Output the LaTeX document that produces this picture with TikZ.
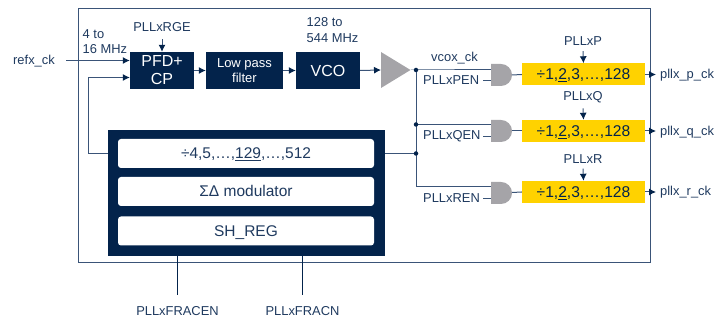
\documentclass[tikz,border=0pt]{standalone}
\usepackage{fontspec}
\setmainfont{Liberation Sans}
\usetikzlibrary{arrows.meta}
\definecolor{navy}{HTML}{03234B}
\definecolor{txt}{HTML}{1F3A5F}
\definecolor{wire}{HTML}{3A5478}
\definecolor{gold}{HTML}{FFD200}
\definecolor{gatec}{HTML}{A5A4A8}
\newcommand{\thickul}[1]{\setbox0\hbox{#1}\rlap{\rule[-2.4pt]{\wd0}{1.2pt}}\box0}
\tikzset{
  x=1pt,y=-1pt,
  wireline/.style={draw=wire,line width=1pt},
  arrowline/.style={wireline,-{Latex[length=7pt,width=7pt,color=navy]}},
  darkbox/.style={fill=navy,text=white,inner sep=0pt,align=center,font=\fontsize{16}{19}\selectfont},
  whitebox/.style={fill=white,rounded corners=3pt,text=txt,inner sep=0pt,text height=11pt,text depth=0pt,font=\fontsize{15.5}{18}\selectfont},
  yellowbox/.style={fill=gold,text=navy,inner sep=0pt,minimum width=123pt,minimum height=22pt,text height=11pt,text depth=0pt,font=\fontsize{15.6}{18}\selectfont},
  lbl/.style={text=txt,inner sep=0pt,font=\fontsize{12.9}{15.5}\selectfont,align=left},
  dotj/.style={circle,fill=navy,inner sep=0pt,minimum size=4.5pt}
}
\begin{document}
\begin{tikzpicture}
\useasboundingbox (0,0) rectangle (718,320);
\draw[wire,line width=1pt] (78.5,9) rectangle (650,263);
% boxes
\node[darkbox,minimum width=64pt,minimum height=37pt] (pfd) at (162,70.5) {PFD+\\[-1pt]CP};
\node[darkbox,minimum width=77pt,minimum height=37pt,font=\fontsize{13}{15.5}\selectfont] (lpf) at (244.5,70.5) {Low pass\\filter};
\node[darkbox,minimum width=64pt,minimum height=37pt] (vco) at (328,70.5) {VCO};
\fill[gatec] (381,52) -- (410.5,70) -- (381,88) -- cycle;
\coordinate (ampin) at (381,70);
\coordinate (ampout) at (410.5,70);
\node[fill=navy,minimum width=277pt,minimum height=126pt,inner sep=0pt] (big) at (246.5,193) {};
\node[whitebox,minimum width=256pt,minimum height=29pt] (div) at (246,153.5) {÷4,5,…,\thickul{129},…,512};
\node[whitebox,minimum width=256pt,minimum height=29pt] (mod) at (246,191.5) {ΣΔ modulator};
\node[whitebox,minimum width=256pt,minimum height=29pt] (sh) at (246,231) {SH\_REG};
% yellow
\node[yellowbox] (yp) at (583.5,74.5) {÷1,\thickul{2},3,…,128};
\node[yellowbox] (yq) at (583.5,131) {÷1,\thickul{2},3,…,128};
\node[yellowbox] (yr) at (583.5,192) {÷1,\thickul{2},3,…,128};
% gates
\fill[gatec] (491,64) -- (501,64) .. controls (507.1,64) and (512,68.9) .. (512,75) .. controls (512,81.1) and (507.1,86) .. (501,86) -- (491,86) -- cycle;
\fill[gatec] (491,120) -- (501,120) .. controls (507.1,120) and (512,124.9) .. (512,131) .. controls (512,137.1) and (507.1,142) .. (501,142) -- (491,142) -- cycle;
\fill[gatec] (491,182) -- (501,182) .. controls (507.1,182) and (512,186.9) .. (512,193) .. controls (512,199.1) and (507.1,204) .. (501,204) -- (491,204) -- cycle;
\coordinate (gp) at (512,75); \coordinate (gq) at (512,131); \coordinate (gr) at (512,192.5);
% labels
\node[lbl,anchor=west] (refx) at (13,61) {refx\_ck};
\coordinate (refs) at (66,60.5);
\node[lbl,anchor=west] (fin) at (82.5,41.5) {4 to\\16 MHz};
\node[lbl] (rge) at (162,27.5) {PLLxRGE};
\coordinate (rgeA) at (162,39.5);
\node[lbl,anchor=west] (fvco) at (306.5,30) {128 to\\544 MHz};
\node[lbl] (vcox) at (454.5,58) {vcox\_ck};
\node[lbl,anchor=west] (pen) at (423,80.5) {PLLxPEN};
\node[lbl,anchor=west] (qen) at (423,136.5) {PLLxQEN};
\node[lbl,anchor=west] (ren) at (423,198.5) {PLLxREN};
\node[lbl] (lp) at (583,41.5) {PLLxP};
\node[lbl] (lq) at (583,97.5) {PLLxQ};
\node[lbl] (lr) at (583,159) {PLLxR};
\node[lbl,anchor=west] (op) at (660,75) {pllx\_p\_ck};
\node[lbl,anchor=west] (oq) at (660,132) {pllx\_q\_ck};
\node[lbl,anchor=west] (or) at (660,192.5) {pllx\_r\_ck};
\node[lbl] (fen) at (177.5,311) {PLLxFRACEN};
\node[lbl] (fn) at (302.5,311) {PLLxFRACN};
% connectors
\draw[arrowline] (refs) -- (pfd.west |- refs);
\draw[arrowline] (big.west |- div) -- (88,153.5) -- (88,77.5) -- (pfd.west |- 0,77.5);
\draw[arrowline] (rgeA) -- (pfd.north);
\draw[arrowline] (pfd.east) -- (lpf.west);
\draw[arrowline] (lpf.east) -- (vco.west);
\draw[arrowline] (vco.east) -- (ampin);
\coordinate (j1) at (416,70);
\coordinate (j2) at (416,124.5);
\coordinate (j3) at (416,153.5);
\coordinate (j4) at (416,186.5);
\draw[wireline] (ampout) -- (j1) -- (491,70);
\draw[wireline] (j1) -- (j4) -- (491,186.5);
\draw[wireline] (j2) -- (491,124.5);
\draw[wireline] (big.east |- j3) -- (j3);
\node[dotj] at (j1) {};
\node[dotj] at (j2) {};
\node[dotj] at (j3) {};
\draw[wireline] (483,80.5) -- (491,80.5);
\draw[wireline] (483,136.5) -- (491,136.5);
\draw[wireline] (483,198.5) -- (491,198.5);
\draw[wireline] (gp) -- (yp.west);
\draw[wireline] (gq) -- (yq.west);
\draw[wireline] (gr) -- (yr.west);
\draw[arrowline] (yp.east) -- (656,74.5);
\draw[arrowline] (yq.east) -- (656,131);
\draw[arrowline] (yr.east) -- (656,192);
\draw[arrowline] (lp.south) ++(0,5) -- (yp.north);
\draw[arrowline] (lq.south) ++(0,5) -- (yq.north);
\draw[arrowline] (lr.south) ++(0,5) -- (yr.north);
\draw[navy,line width=1.3pt] (big.south -| fen) -- (177.5,295);
\draw[navy,line width=1.3pt] (big.south -| fn) -- (302.5,295);
\end{tikzpicture}
\end{document}
